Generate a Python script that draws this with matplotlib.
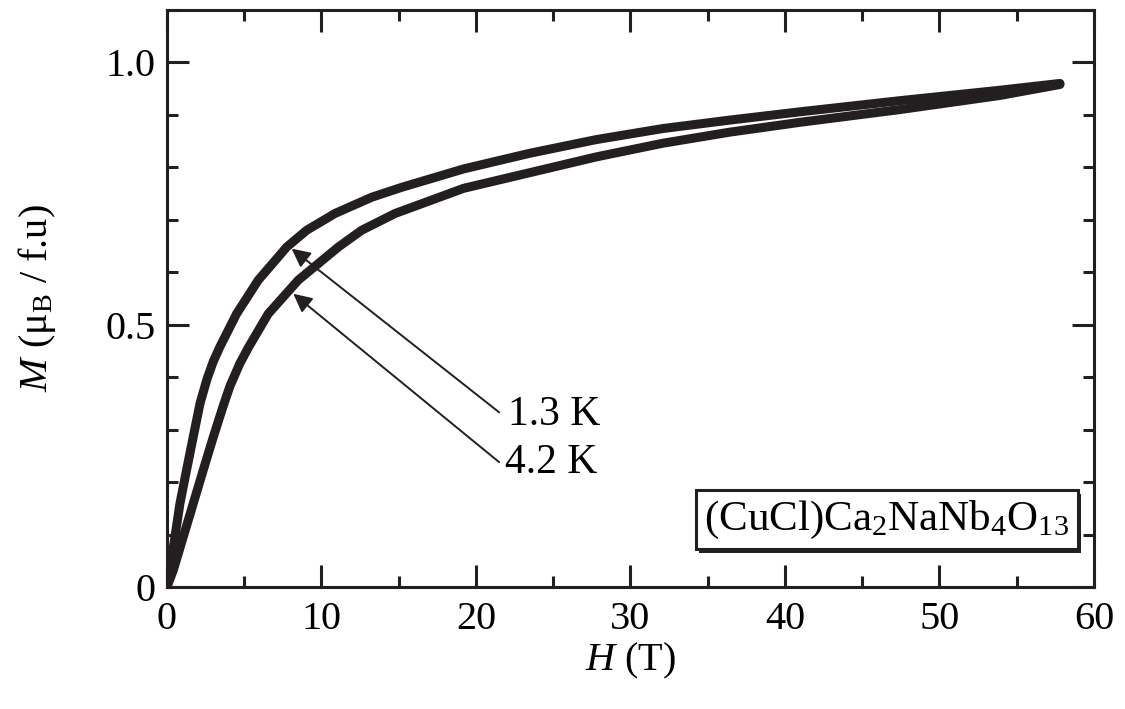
import matplotlib
matplotlib.use("Agg")
import matplotlib.pyplot as plt
import matplotlib.patheffects as pe
from matplotlib.ticker import MultipleLocator, FuncFormatter

# magnetization curves, H in tesla, M in muB per formula unit
h_13K = [0, 0.19, 0.52, 0.84, 1.27, 1.7, 2.14, 2.6, 3.0, 3.43, 4.51, 5.91,
         7.75, 9.04, 10.87, 13.25, 15.2, 19.2, 23.5, 27.8, 32.1, 36.4, 41.0,
         47.4, 53.9, 57.8]
m_13K = [0, 0.032, 0.096, 0.159, 0.223, 0.286, 0.35, 0.397, 0.43, 0.458,
         0.521, 0.585, 0.648, 0.68, 0.712, 0.743, 0.762, 0.797, 0.827, 0.853,
         0.874, 0.89, 0.906, 0.927, 0.947, 0.96]

h_42K = [0, 0.41, 1.06, 1.7, 2.35, 3.0, 3.64, 4.08, 4.7, 5.26, 6.56, 8.5,
         11.09, 12.6, 14.76, 19.2, 23.5, 27.8, 32.1, 36.4, 41.0, 47.4, 53.9,
         57.8]
m_42K = [0, 0.032, 0.096, 0.159, 0.223, 0.286, 0.345, 0.383, 0.425, 0.456,
         0.521, 0.585, 0.648, 0.68, 0.712, 0.76, 0.79, 0.82, 0.846, 0.867,
         0.886, 0.91, 0.937, 0.958]

labels = ["1.3 K", "4.2 K"]
compound = r"(CuCl)Ca$_2$NaNb$_4$O$_{13}$"

plt.rcParams["font.family"] = ["Liberation Serif", "DejaVu Serif"]
plt.rcParams["mathtext.fontset"] = "custom"
plt.rcParams["mathtext.rm"] = "Liberation Serif"
plt.rcParams["mathtext.it"] = "Liberation Serif:italic"

ink = "#231f20"

fig = plt.figure(figsize=(11.25, 7.09), dpi=100)
ax = fig.add_axes([0.1484, 0.1721, 0.8240, 0.8138])

for h, m in [(h_13K, m_13K), (h_42K, m_42K)]:
    ax.plot(h, m, color=ink, lw=6.5, solid_capstyle="round",
            solid_joinstyle="round", zorder=3)

ax.set_xlim(0, 60)
ax.set_ylim(0, 1.1)
ax.xaxis.set_major_locator(MultipleLocator(10))
ax.xaxis.set_minor_locator(MultipleLocator(5))
ax.yaxis.set_major_locator(MultipleLocator(0.5))
ax.yaxis.set_minor_locator(MultipleLocator(0.1))
ax.yaxis.set_major_formatter(FuncFormatter(lambda v, p: "0" if v == 0 else f"{v:.1f}"))

ax.tick_params(which="both", direction="in", top=True, right=True,
               width=2.2, color=ink, labelsize=29)
ax.tick_params(which="major", length=16)
ax.tick_params(which="minor", length=8)
ax.tick_params(axis="x", pad=10)
ax.tick_params(axis="y", pad=8)
for s in ax.spines.values():
    s.set_linewidth(2.2)
    s.set_color(ink)

ax.set_xlabel(r"$H$ (T)", fontsize=29, labelpad=2)
ax.set_ylabel(r"$M$ (μ$_\mathrm{B}$ / f.u)", fontsize=29, labelpad=34)

# temperature labels with arrows to each curve
arrow = dict(arrowstyle="-|>", color=ink, lw=1.4, mutation_scale=28,
             shrinkA=0, shrinkB=0)
ax.annotate("", xy=(8.07, 0.645), xytext=(21.5, 0.333), arrowprops=arrow)
ax.annotate("", xy=(8.18, 0.559), xytext=(21.5, 0.238), arrowprops=arrow)
ax.text(22.1, 0.328, labels[0], fontsize=30, va="center", ha="left")
ax.text(21.9, 0.236, labels[1], fontsize=30, va="center", ha="left")

t = ax.text(46.6, 0.128, compound, fontsize=31, ha="center", va="center",
            bbox=dict(boxstyle="square,pad=0.2", fc="white", ec=ink, lw=2.2),
            zorder=5)
t.get_bbox_patch().set_path_effects([
    pe.SimplePatchShadow(offset=(2.5, -2.5), shadow_rgbFace=ink, alpha=1.0),
    pe.Normal()])

fig.savefig("out.png", dpi=100)
